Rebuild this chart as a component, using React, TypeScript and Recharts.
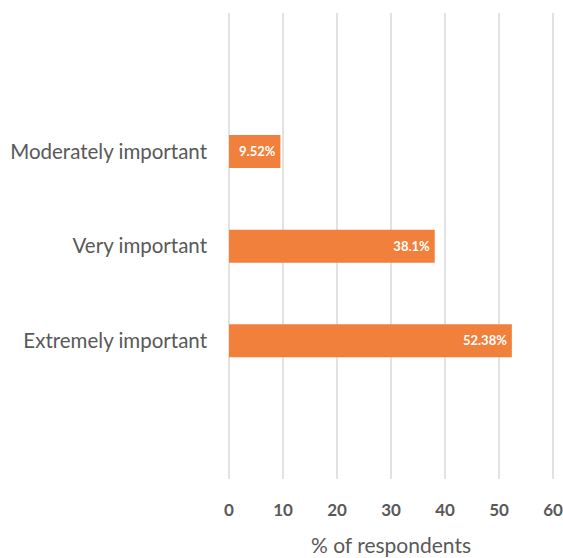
import { BarChart, Bar, XAxis, YAxis, CartesianGrid, LabelList } from "recharts";

const categories = ["Moderately important", "Very important", "Extremely important"];
const shares = [9.52, 38.1, 52.38];
const xTicks = [0, 10, 20, 30, 40, 50, 60];

const data = categories.map((name, i) => ({ name, value: shares[i] }));

const FONT = "Lato, 'Open Sans', sans-serif";

export default function App() {
  return (
    <div style={{ position: "absolute", left: 0, top: 0, background: "#fff" }}>
      <BarChart
        width={563}
        height={558}
        data={data}
        layout="vertical"
        margin={{ top: 13, right: 10, bottom: 0, left: 0 }}
      >
        <CartesianGrid horizontal={false} stroke="#d9d9d9" strokeWidth={1.5} />
        <XAxis
          type="number"
          domain={[0, 60]}
          ticks={xTicks}
          axisLine={false}
          tickLine={false}
          tickSize={0}
          tickMargin={25}
          height={79}
          tick={{ fontSize: 17, fontWeight: 700, fill: "#595959", fontFamily: FONT }}
          label={{
            value: "% of respondents",
            position: "insideBottom",
            offset: 5,
            fontSize: 21,
            fill: "#595959",
            fontFamily: FONT,
          }}
        />
        <YAxis
          type="category"
          dataKey="name"
          width={229}
          axisLine={false}
          tickLine={false}
          tickSize={0}
          tickMargin={22}
          padding={{ top: 91, bottom: 91 }}
          tick={{ fontSize: 20.5, fill: "#595959", fontFamily: FONT }}
        />
        <Bar dataKey="value" fill="#F0803C" barSize={33} isAnimationActive={false}>
          <LabelList
            dataKey="value"
            position="insideRight"
            offset={5}
            formatter={(v: number) => `${v}%`}
            fill="#ffffff"
            fontSize={13}
            fontWeight={700}
            fontFamily={FONT}
          />
        </Bar>
      </BarChart>
    </div>
  );
}
